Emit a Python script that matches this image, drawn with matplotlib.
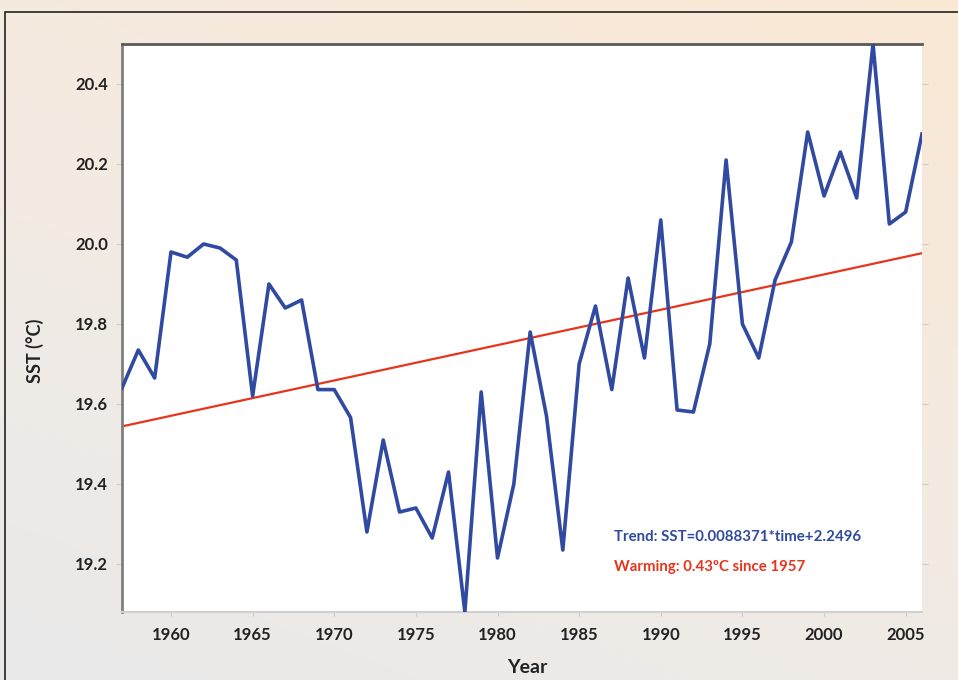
import numpy as np
import matplotlib.pyplot as plt
from matplotlib.colors import LinearSegmentedColormap
from matplotlib.patches import Rectangle

# Annual mean SST
years = list(range(1957, 2007))
sst = [19.64, 19.735, 19.665, 19.98, 19.967, 20.00, 19.99, 19.96, 19.62, 19.90,
       19.84, 19.86, 19.636, 19.636, 19.566, 19.28, 19.51, 19.33, 19.34, 19.265,
       19.43, 19.08, 19.63, 19.215, 19.40, 19.78, 19.57, 19.235, 19.70, 19.845,
       19.636, 19.915, 19.715, 20.06, 19.585, 19.58, 19.75, 20.21, 19.80, 19.715,
       19.91, 20.005, 20.28, 20.12, 20.23, 20.115, 20.50, 20.05, 20.08, 20.275]

# linear trend as printed on the chart (offset to the plotted SST scale)
trend_slope = 0.0088371
trend_start = 19.544
trend_years = [1957, 2006]

xticks = [1960, 1965, 1970, 1975, 1980, 1985, 1990, 1995, 2000, 2005]
yticks = [19.2, 19.4, 19.6, 19.8, 20.0, 20.2, 20.4]

fig = plt.figure(figsize=(9.58, 6.8), dpi=100)

# background gradient: grey lower-left to peach upper-right
bg = fig.add_axes([0, 0, 1, 1], zorder=-10)
cmap = LinearSegmentedColormap.from_list('bg', ['#e9e9ea', '#f3ebe3', '#fae8d4'])
gx, gy = np.meshgrid(np.linspace(0, 1, 200), np.linspace(1, 0, 200))
bg.imshow(0.35 * gx + 0.65 * gy, cmap=cmap, aspect='auto', extent=[0, 1, 0, 1])
bg.add_patch(Rectangle((5 / 958, -0.1), 1.1, (680 - 12) / 680 + 0.1,
                       fill=False, edgecolor='#222222', lw=1.2))
bg.set_xlim(0, 1)
bg.set_ylim(0, 1)
bg.axis('off')

ax = fig.add_axes([122 / 958, 68 / 680, 800 / 958, 568 / 680])
ax.set_facecolor('white')

ax.plot(years, sst, color='#2f4aa0', lw=2.6, solid_joinstyle='round', zorder=3)
trend = [trend_start + trend_slope * (y - trend_years[0]) for y in trend_years]
ax.plot(trend_years, trend, color='#e8341c', lw=1.6, zorder=2)

ax.set_xlim(1957, 2006)
ax.set_ylim(19.08, 20.5)
ax.set_xticks(xticks)
ax.set_yticks(yticks)
ax.set_yticklabels([f'{v:.1f}' for v in yticks])

ax.spines['right'].set_visible(False)
ax.spines['left'].set_color('#7f7f7f')
ax.spines['left'].set_linewidth(2)
ax.spines['top'].set_color('#5a5a5a')
ax.spines['top'].set_linewidth(2)
ax.spines['bottom'].set_color('#d0d0d0')
ax.spines['bottom'].set_linewidth(1.5)

ax.tick_params(axis='y', length=4, color='#cccccc', pad=6, right=True, direction='out')
ax.tick_params(axis='x', length=3, color='#cccccc', pad=8)
for lab in ax.get_xticklabels() + ax.get_yticklabels():
    lab.set_fontfamily('Lato')
    lab.set_fontweight('bold')
    lab.set_fontsize(12)
    lab.set_color('#222222')

ax.set_xlabel('Year', fontfamily='Lato', fontweight='bold', fontsize=14,
              color='#222222')
ax.xaxis.set_label_coords(0.507, -0.082)
ax.set_ylabel('SST (°C)', fontfamily='Lato', fontweight='bold', fontsize=13,
              color='#222222')
ax.yaxis.set_label_coords(-0.098, 0.46)

ax.text(0.615, 0.132, 'Trend: SST=0.0088371*time+2.2496', transform=ax.transAxes,
        color='#2f4aa0', fontfamily='Lato', fontweight='bold', fontsize=10.8,
        va='center')
ax.text(0.615, 0.079, 'Warming: 0.43ºC since 1957', transform=ax.transAxes,
        color='#e8341c', fontfamily='Lato', fontweight='bold', fontsize=10.8,
        va='center')

fig.savefig('out.png', dpi=100)
